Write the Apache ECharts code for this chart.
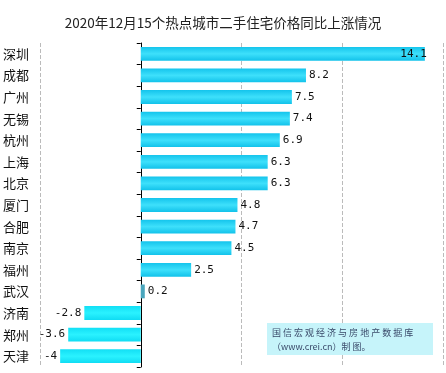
<!DOCTYPE html>
<html><head><meta charset="utf-8">
<script src="https://cdn.jsdelivr.net/npm/echarts@6/dist/echarts.min.js"></script>
<style>html,body{margin:0;padding:0;background:#fff}#c{width:446px;height:373px}</style>
</head><body><div id="c"></div>
<script>
const cities = ['深圳','成都','广州','无锡','杭州','上海','北京','厦门','合肥','南京','福州','武汉','济南','郑州','天津'];
const values = [14.1, 8.2, 7.5, 7.4, 6.9, 6.3, 6.3, 4.8, 4.7, 4.5, 2.5, 0.2, -2.8, -3.6, -4];
const xTicks = [-5, 0, 5, 10, 15];
const titleText = '2020年12月15个热点城市二手住宅价格同比上涨情况';
const noteLines = ['国 信 宏 观 经 济 与 房 地 产 数 据 库', '（www.crei.cn）制 图。'];

const posGrad = new echarts.graphic.LinearGradient(0,0,0,1,[
  {offset:0,color:'#14c4ec'},{offset:0.5,color:'#3ee0fb'},{offset:1,color:'#12c2ea'}]);
const negGrad = new echarts.graphic.LinearGradient(0,0,0,1,[
  {offset:0,color:'#12dff5'},{offset:0.5,color:'#2af2ff'},{offset:1,color:'#10dcf3'}]);

const data = values.map((v,i)=>{
  const d = {value:v};
  if (v < 0) {
    d.itemStyle = {color: negGrad};
    d.label = {position:'left'};
  } else if (v < 1) {
    d.itemStyle = {color:'#4aa6bd'};
  } else if (v > 14) {
    d.label = {position:'insideRight', distance:-2};
  }
  return d;
});

const chart = echarts.init(document.getElementById('c'));
chart.setOption({
  animation:false,
  title:{text:titleText,left:'center',top:11,textStyle:{fontSize:13.5,fontWeight:'normal',color:'#222',fontFamily:'Noto Sans CJK SC'}},
  grid:{left:40,right:3,top:43,bottom:6,containLabel:false,outerBoundsMode:'none'},
  xAxis:{type:'value',min:xTicks[0],max:xTicks[xTicks.length-1],interval:5,
    axisLine:{show:false},axisTick:{show:false},axisLabel:{show:false},
    splitLine:{show:true,lineStyle:{type:'dashed',color:'#bbb',width:1}}},
  yAxis:{type:'category',data:cities,inverse:true,
    axisLine:{show:true,onZero:true,lineStyle:{color:'#000',width:1}},
    axisTick:{show:true,length:4,lineStyle:{color:'#000'}},
    axisLabel:{margin:11,fontSize:13,color:'#111',fontFamily:'Noto Sans CJK SC'}},
  series:[{type:'bar',data:data,barWidth:'64%',
    itemStyle:{color:posGrad},
    label:{show:true,position:'right',distance:3,fontSize:11,color:'#111',fontFamily:'DejaVu Sans Mono'}}],
  graphic:[
    {type:'rect',left:267,top:323,shape:{width:166,height:32},style:{fill:'#c6f4fa'},z:10},
    {type:'text',left:272,top:326,style:{text:noteLines.join('\n'),fill:'#3a4a6a',font:'9px "Noto Sans CJK SC"',lineHeight:14},z:11}
  ]
});
</script></body></html>
